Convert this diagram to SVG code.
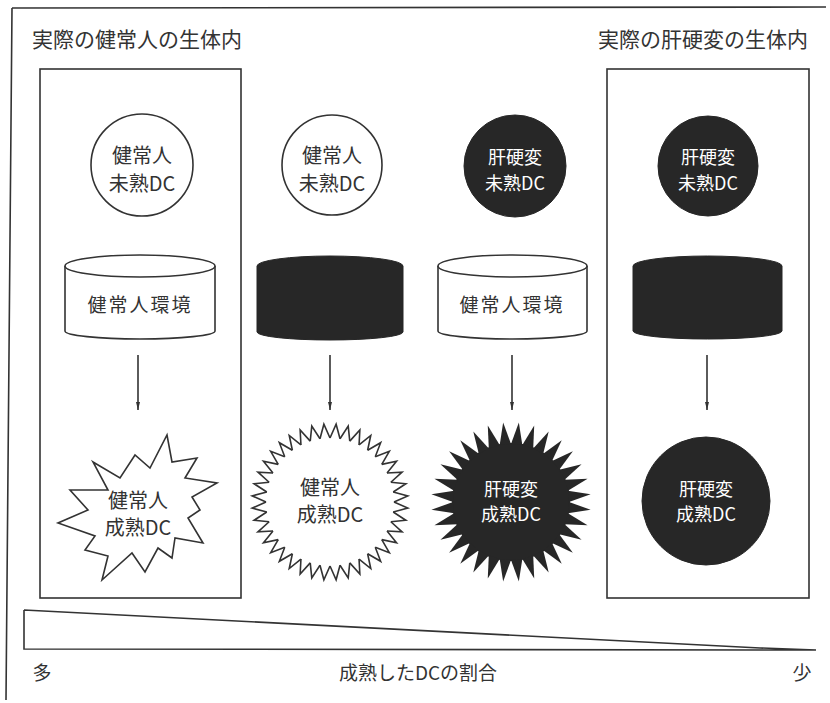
<svg xmlns="http://www.w3.org/2000/svg" xmlns:xlink="http://www.w3.org/1999/xlink" width="830" height="703" viewBox="0 0 830 703">
<defs>
<style>
.ln{fill:none;stroke:#333;stroke-width:1.6}
.wf{fill:#fff;stroke:#333;stroke-width:1.6}
.dk{fill:#272727;stroke:#272727;stroke-width:1}
.t{font-family:"Noto Sans CJK JP","Noto Sans",sans-serif;fill:#333;text-anchor:middle}
.tw{font-family:"Noto Sans CJK JP","Noto Sans",sans-serif;fill:#fff;text-anchor:middle}
.title{font-family:"Noto Sans CJK JP","Noto Sans",sans-serif;fill:#333;font-size:21px}
</style>
<marker id="ah" viewBox="0 0 8 6" refX="8" refY="3" markerWidth="8" markerHeight="6" markerUnits="userSpaceOnUse" orient="auto">
<path d="M0,1 L8,3 L0,5 Z" fill="#333"/>
</marker>
<polyline id="tooth" points="394,502 407.76,508.12 393.21,512.01" fill="none" stroke="#333" stroke-width="1.6" stroke-linejoin="miter"/>
<polygon id="spike" points="569,502 590.61,509.84 567.89,513.32" fill="#272727"/>
</defs>
<rect width="830" height="703" fill="#fff"/>
<g id="frame">
<path class="ln" d="M12,8 L826,7 M12,8 L6,700"/>
</g>
<text class="title" x="32" y="47">実際の健常人の生体内</text>
<text class="title" x="598" y="47">実際の肝硬変の生体内</text>
<g id="box-healthy"><rect class="ln" x="40" y="69" width="201" height="529"/></g>
<g id="box-cirrhosis"><rect class="ln" x="607" y="69" width="202" height="529"/></g>

<g id="immature1">
<circle class="wf" cx="142" cy="165" r="51"/>
<text class="t" x="142" y="163" font-size="20">健常人</text>
<text class="t" x="142" y="191" font-size="20">未熟DC</text>
</g>
<g id="immature2">
<circle class="wf" cx="332" cy="165" r="50"/>
<text class="t" x="332" y="163" font-size="20">健常人</text>
<text class="t" x="332" y="191" font-size="20">未熟DC</text>
</g>
<g id="immature3">
<circle class="dk" cx="515" cy="166" r="51"/>
<text class="tw" x="515" y="164" font-size="18">肝硬変</text>
<text class="tw" x="515" y="190" font-size="18">未熟DC</text>
</g>
<g id="immature4">
<circle class="dk" cx="708" cy="166" r="50"/>
<text class="tw" x="708" y="164" font-size="18">肝硬変</text>
<text class="tw" x="708" y="190" font-size="18">未熟DC</text>
</g>

<g id="env1">
<path class="wf" d="M65,266 L65,331 A75,8 0 0 0 215,331 L215,266"/>
<ellipse class="wf" cx="140" cy="266" rx="75" ry="11"/>
<text class="t" x="140" y="312" font-size="19" letter-spacing="2">健常人環境</text>
</g>
<g id="env2">
<path class="dk" d="M257,266 A73,10 0 0 1 403,266 L403,332 A73,8 0 0 1 257,332 Z"/>
</g>
<g id="env3">
<path class="wf" d="M438,266 L438,331 A74.5,8 0 0 0 587,331 L587,266"/>
<ellipse class="wf" cx="512.5" cy="266" rx="74.5" ry="11"/>
<text class="t" x="512" y="312" font-size="19" letter-spacing="2">健常人環境</text>
</g>
<g id="env4">
<path class="dk" d="M633,266 A74.5,10 0 0 1 782,266 L782,331 A74.5,8 0 0 1 633,331 Z"/>
</g>

<g id="connectors">
<line class="ln" x1="138" y1="355" x2="138" y2="410" marker-end="url(#ah)"/>
<line class="ln" x1="330" y1="355" x2="330" y2="410" marker-end="url(#ah)"/>
<line class="ln" x1="512" y1="355" x2="512" y2="410" marker-end="url(#ah)"/>
<line class="ln" x1="707" y1="355" x2="707" y2="410" marker-end="url(#ah)"/>
</g>

<g id="mature1">
<path class="wf" d="M93,462 L120,478 L135,455 L150,468 L167,435 L172,462 L197,458 L185,478 L217,483 L192,497 L200,510 L188,518 L203,543 L175,538 L172,558 L158,548 L145,572 L132,553 L102,580 L108,556 L85,550 L95,536 L58,523 L88,510 L70,490 L108,490 Z"/>
<text class="t" x="138" y="508" font-size="20">健常人</text>
<text class="t" x="138" y="535" font-size="20">成熟DC</text>
</g>
<g id="mature2">
<use xlink:href="#tooth" href="#tooth" transform="rotate(0 330 502)"/>
<use xlink:href="#tooth" href="#tooth" transform="rotate(9 330 502)"/>
<use xlink:href="#tooth" href="#tooth" transform="rotate(18 330 502)"/>
<use xlink:href="#tooth" href="#tooth" transform="rotate(27 330 502)"/>
<use xlink:href="#tooth" href="#tooth" transform="rotate(36 330 502)"/>
<use xlink:href="#tooth" href="#tooth" transform="rotate(45 330 502)"/>
<use xlink:href="#tooth" href="#tooth" transform="rotate(54 330 502)"/>
<use xlink:href="#tooth" href="#tooth" transform="rotate(63 330 502)"/>
<use xlink:href="#tooth" href="#tooth" transform="rotate(72 330 502)"/>
<use xlink:href="#tooth" href="#tooth" transform="rotate(81 330 502)"/>
<use xlink:href="#tooth" href="#tooth" transform="rotate(90 330 502)"/>
<use xlink:href="#tooth" href="#tooth" transform="rotate(99 330 502)"/>
<use xlink:href="#tooth" href="#tooth" transform="rotate(108 330 502)"/>
<use xlink:href="#tooth" href="#tooth" transform="rotate(117 330 502)"/>
<use xlink:href="#tooth" href="#tooth" transform="rotate(126 330 502)"/>
<use xlink:href="#tooth" href="#tooth" transform="rotate(135 330 502)"/>
<use xlink:href="#tooth" href="#tooth" transform="rotate(144 330 502)"/>
<use xlink:href="#tooth" href="#tooth" transform="rotate(153 330 502)"/>
<use xlink:href="#tooth" href="#tooth" transform="rotate(162 330 502)"/>
<use xlink:href="#tooth" href="#tooth" transform="rotate(171 330 502)"/>
<use xlink:href="#tooth" href="#tooth" transform="rotate(180 330 502)"/>
<use xlink:href="#tooth" href="#tooth" transform="rotate(189 330 502)"/>
<use xlink:href="#tooth" href="#tooth" transform="rotate(198 330 502)"/>
<use xlink:href="#tooth" href="#tooth" transform="rotate(207 330 502)"/>
<use xlink:href="#tooth" href="#tooth" transform="rotate(216 330 502)"/>
<use xlink:href="#tooth" href="#tooth" transform="rotate(225 330 502)"/>
<use xlink:href="#tooth" href="#tooth" transform="rotate(234 330 502)"/>
<use xlink:href="#tooth" href="#tooth" transform="rotate(243 330 502)"/>
<use xlink:href="#tooth" href="#tooth" transform="rotate(252 330 502)"/>
<use xlink:href="#tooth" href="#tooth" transform="rotate(261 330 502)"/>
<use xlink:href="#tooth" href="#tooth" transform="rotate(270 330 502)"/>
<use xlink:href="#tooth" href="#tooth" transform="rotate(279 330 502)"/>
<use xlink:href="#tooth" href="#tooth" transform="rotate(288 330 502)"/>
<use xlink:href="#tooth" href="#tooth" transform="rotate(297 330 502)"/>
<use xlink:href="#tooth" href="#tooth" transform="rotate(306 330 502)"/>
<use xlink:href="#tooth" href="#tooth" transform="rotate(315 330 502)"/>
<use xlink:href="#tooth" href="#tooth" transform="rotate(324 330 502)"/>
<use xlink:href="#tooth" href="#tooth" transform="rotate(333 330 502)"/>
<use xlink:href="#tooth" href="#tooth" transform="rotate(342 330 502)"/>
<use xlink:href="#tooth" href="#tooth" transform="rotate(351 330 502)"/>
<text class="t" x="330" y="495" font-size="20">健常人</text>
<text class="t" x="330" y="522" font-size="20">成熟DC</text>
</g>
<g id="mature3">
<circle cx="511" cy="502" r="59" fill="#272727"/>
<use xlink:href="#spike" href="#spike" transform="rotate(0 511 502)"/>
<use xlink:href="#spike" href="#spike" transform="rotate(11.25 511 502)"/>
<use xlink:href="#spike" href="#spike" transform="rotate(22.5 511 502)"/>
<use xlink:href="#spike" href="#spike" transform="rotate(33.75 511 502)"/>
<use xlink:href="#spike" href="#spike" transform="rotate(45 511 502)"/>
<use xlink:href="#spike" href="#spike" transform="rotate(56.25 511 502)"/>
<use xlink:href="#spike" href="#spike" transform="rotate(67.5 511 502)"/>
<use xlink:href="#spike" href="#spike" transform="rotate(78.75 511 502)"/>
<use xlink:href="#spike" href="#spike" transform="rotate(90 511 502)"/>
<use xlink:href="#spike" href="#spike" transform="rotate(101.25 511 502)"/>
<use xlink:href="#spike" href="#spike" transform="rotate(112.5 511 502)"/>
<use xlink:href="#spike" href="#spike" transform="rotate(123.75 511 502)"/>
<use xlink:href="#spike" href="#spike" transform="rotate(135 511 502)"/>
<use xlink:href="#spike" href="#spike" transform="rotate(146.25 511 502)"/>
<use xlink:href="#spike" href="#spike" transform="rotate(157.5 511 502)"/>
<use xlink:href="#spike" href="#spike" transform="rotate(168.75 511 502)"/>
<use xlink:href="#spike" href="#spike" transform="rotate(180 511 502)"/>
<use xlink:href="#spike" href="#spike" transform="rotate(191.25 511 502)"/>
<use xlink:href="#spike" href="#spike" transform="rotate(202.5 511 502)"/>
<use xlink:href="#spike" href="#spike" transform="rotate(213.75 511 502)"/>
<use xlink:href="#spike" href="#spike" transform="rotate(225 511 502)"/>
<use xlink:href="#spike" href="#spike" transform="rotate(236.25 511 502)"/>
<use xlink:href="#spike" href="#spike" transform="rotate(247.5 511 502)"/>
<use xlink:href="#spike" href="#spike" transform="rotate(258.75 511 502)"/>
<use xlink:href="#spike" href="#spike" transform="rotate(270 511 502)"/>
<use xlink:href="#spike" href="#spike" transform="rotate(281.25 511 502)"/>
<use xlink:href="#spike" href="#spike" transform="rotate(292.5 511 502)"/>
<use xlink:href="#spike" href="#spike" transform="rotate(303.75 511 502)"/>
<use xlink:href="#spike" href="#spike" transform="rotate(315 511 502)"/>
<use xlink:href="#spike" href="#spike" transform="rotate(326.25 511 502)"/>
<use xlink:href="#spike" href="#spike" transform="rotate(337.5 511 502)"/>
<use xlink:href="#spike" href="#spike" transform="rotate(348.75 511 502)"/>
<text class="tw" x="511" y="496" font-size="18">肝硬変</text>
<text class="tw" x="511" y="521" font-size="18">成熟DC</text>
</g>
<g id="mature4">
<circle class="dk" cx="706" cy="501" r="64"/>
<text class="tw" x="706" y="496" font-size="18">肝硬変</text>
<text class="tw" x="706" y="521" font-size="18">成熟DC</text>
</g>

<g id="scale">
<path class="ln" d="M24,610 L24,649 L816,650 M24,610 L760,648 L816,650"/>
</g>
<text class="t" x="42" y="680" font-size="19">多</text>
<text class="t" x="418" y="680" font-size="19">成熟したDCの割合</text>
<text class="t" x="802" y="680" font-size="19">少</text>
</svg>
